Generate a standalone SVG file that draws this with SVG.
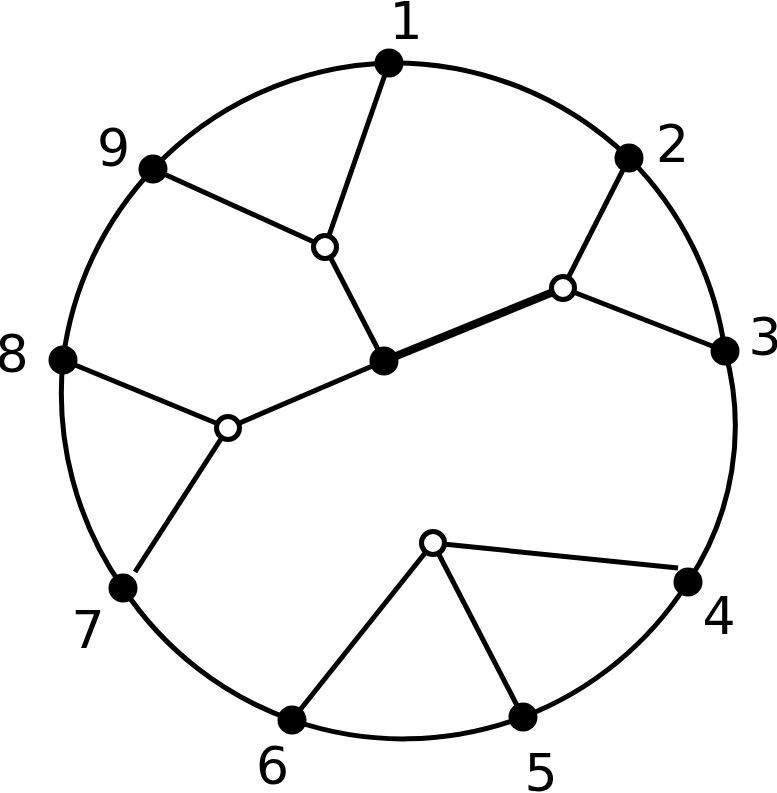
<svg xmlns="http://www.w3.org/2000/svg" width="777" height="793" viewBox="0 0 777 793">
<style>
.ring{fill:none;stroke:#000;stroke-width:5}
.e{stroke:#000;stroke-width:5;stroke-linecap:butt}
.thick{stroke-width:8}
.b{fill:#000}
.w{fill:#fff;stroke:#000;stroke-width:5}
.lbl{font-family:"DejaVu Sans",sans-serif;font-size:52px;fill:#000;text-anchor:middle}
</style>
<rect width="777" height="793" fill="#fff"/>
<path class="ring" d="M389,63 A338,338 0 0 1 629,158 A338,338 0 0 1 725,351 A280,280 0 0 1 688,582 A338,338 0 0 1 523,717 A338,338 0 0 1 292,720 A338,338 0 0 1 123,588 A338,338 0 0 1 63,360 A338,338 0 0 1 153,169 A338,338 0 0 1 389,63 Z"/>
<g id="connectors">
<line class="e" x1="389" y1="63" x2="325" y2="247"/>
<line class="e" x1="153" y1="169" x2="325" y2="247"/>
<line class="e" x1="325" y1="247" x2="384" y2="361"/>
<line class="e thick" x1="384" y1="361" x2="563" y2="288"/>
<line class="e" x1="563" y1="288" x2="629" y2="158"/>
<line class="e" x1="563" y1="288" x2="725" y2="351"/>
<line class="e" x1="384" y1="361" x2="228" y2="428"/>
<line class="e" x1="228" y1="428" x2="63" y2="360"/>
<line class="e" x1="228" y1="428" x2="135" y2="572"/>
<line class="e" x1="433" y1="543" x2="678" y2="568"/>
<line class="e" x1="433" y1="543" x2="523" y2="717"/>
<line class="e" x1="433" y1="543" x2="292" y2="720"/>
</g>
<g id="n1"><circle class="b" cx="389" cy="63" r="14.5"/><text class="lbl" x="406" y="39">1</text></g>
<g id="n2"><circle class="b" cx="629" cy="158" r="14.5"/><text class="lbl" x="672.5" y="161.5">2</text></g>
<g id="n3"><circle class="b" cx="725" cy="351" r="14.5"/><text class="lbl" x="765" y="355">3</text></g>
<g id="n4"><circle class="b" cx="688" cy="582" r="14.5"/><text class="lbl" x="719" y="634">4</text></g>
<g id="n5"><circle class="b" cx="523" cy="717" r="14.5"/><text class="lbl" x="541" y="791">5</text></g>
<g id="n6"><circle class="b" cx="292" cy="720" r="14.5"/><text class="lbl" x="272.5" y="784">6</text></g>
<g id="n7"><circle class="b" cx="123" cy="588" r="14.5"/><text class="lbl" x="88" y="648">7</text></g>
<g id="n8"><circle class="b" cx="63" cy="360" r="14.5"/><text class="lbl" x="12" y="372">8</text></g>
<g id="n9"><circle class="b" cx="153" cy="169" r="14.5"/><text class="lbl" x="113.5" y="166">9</text></g>
<g id="c"><circle class="b" cx="384" cy="361" r="14.5"/></g>
<g id="w1"><circle class="w" cx="325" cy="247" r="11.5"/></g>
<g id="w2"><circle class="w" cx="563" cy="288" r="11.5"/></g>
<g id="w3"><circle class="w" cx="228" cy="428" r="11.5"/></g>
<g id="w4"><circle class="w" cx="433" cy="543" r="11.5"/></g>
</svg>
